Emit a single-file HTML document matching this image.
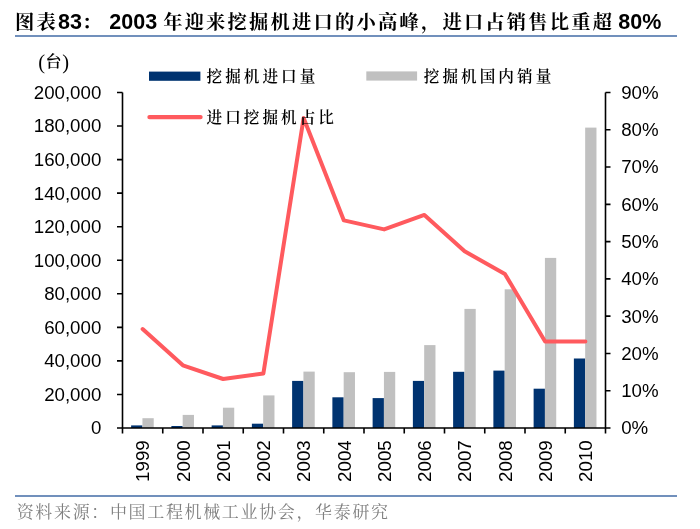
<!DOCTYPE html>
<html><head><meta charset="utf-8"><title>图表83</title>
<style>
html,body{margin:0;padding:0;background:#fff;width:700px;height:529px;overflow:hidden;}
.t{position:absolute;left:15px;top:9px;font-family:"Liberation Sans","Noto Serif CJK SC",serif;font-weight:bold;font-size:21.5px;line-height:26px;white-space:nowrap;color:#000;}
.t .c{font-size:19.3px;letter-spacing:2.2px;font-weight:700;}
.hl{position:absolute;left:15px;width:662px;height:2px;background:#7190bc;}
.src{position:absolute;left:16.7px;top:502px;font-family:"Liberation Serif","Noto Serif CJK SC",serif;font-size:17px;line-height:22px;color:#7f7f7f;white-space:nowrap;letter-spacing:1.65px;}
svg{position:absolute;left:0;top:0;}
</style></head><body>
<svg width="700" height="529" viewBox="0 0 700 529"><rect x="131.12" y="425.40" width="11.30" height="2.60" fill="#003370"/><rect x="142.43" y="418.20" width="11.30" height="9.80" fill="#c0c0c0"/><rect x="171.38" y="426.00" width="11.30" height="2.00" fill="#003370"/><rect x="182.68" y="414.90" width="11.30" height="13.10" fill="#c0c0c0"/><rect x="211.62" y="425.40" width="11.30" height="2.60" fill="#003370"/><rect x="222.93" y="407.70" width="11.30" height="20.30" fill="#c0c0c0"/><rect x="251.88" y="423.70" width="11.30" height="4.30" fill="#003370"/><rect x="263.18" y="395.40" width="11.30" height="32.60" fill="#c0c0c0"/><rect x="292.12" y="380.90" width="11.30" height="47.10" fill="#003370"/><rect x="303.43" y="371.60" width="11.30" height="56.40" fill="#c0c0c0"/><rect x="332.38" y="397.30" width="11.30" height="30.70" fill="#003370"/><rect x="343.68" y="372.20" width="11.30" height="55.80" fill="#c0c0c0"/><rect x="372.62" y="398.10" width="11.30" height="29.90" fill="#003370"/><rect x="383.93" y="371.90" width="11.30" height="56.10" fill="#c0c0c0"/><rect x="412.88" y="380.90" width="11.30" height="47.10" fill="#003370"/><rect x="424.18" y="345.10" width="11.30" height="82.90" fill="#c0c0c0"/><rect x="453.12" y="371.80" width="11.30" height="56.20" fill="#003370"/><rect x="464.43" y="308.90" width="11.30" height="119.10" fill="#c0c0c0"/><rect x="493.38" y="370.60" width="11.30" height="57.40" fill="#003370"/><rect x="504.68" y="289.30" width="11.30" height="138.70" fill="#c0c0c0"/><rect x="533.62" y="388.70" width="11.30" height="39.30" fill="#003370"/><rect x="544.92" y="257.90" width="11.30" height="170.10" fill="#c0c0c0"/><rect x="573.88" y="358.50" width="11.30" height="69.50" fill="#003370"/><rect x="585.17" y="127.60" width="11.30" height="300.40" fill="#c0c0c0"/><path d="M122.5 92.5V433.5 M605.5 92.5V433.5 M117.0 428.0H610.5 M117.0 92.50H122.5 M117.0 126.05H122.5 M117.0 159.60H122.5 M117.0 193.15H122.5 M117.0 226.70H122.5 M117.0 260.25H122.5 M117.0 293.80H122.5 M117.0 327.35H122.5 M117.0 360.90H122.5 M117.0 394.45H122.5 M117.0 428.00H122.5 M605.5 92.50H610.5 M605.5 129.78H610.5 M605.5 167.06H610.5 M605.5 204.33H610.5 M605.5 241.61H610.5 M605.5 278.89H610.5 M605.5 316.17H610.5 M605.5 353.44H610.5 M605.5 390.72H610.5 M605.5 428.00H610.5 M162.75 428.0V433.5 M203.00 428.0V433.5 M243.25 428.0V433.5 M283.50 428.0V433.5 M323.75 428.0V433.5 M364.00 428.0V433.5 M404.25 428.0V433.5 M444.50 428.0V433.5 M484.75 428.0V433.5 M525.00 428.0V433.5 M565.25 428.0V433.5" stroke="#000" stroke-width="1.6" fill="none"/><polyline points="142.62,329.00 182.88,365.30 223.12,379.00 263.38,373.50 303.62,118.00 343.88,220.40 384.12,229.40 424.38,214.90 464.62,251.30 504.88,273.90 545.12,341.50 585.38,341.50" fill="none" stroke="#ff5a5e" stroke-width="4.0" stroke-linejoin="round" stroke-linecap="round"/><g font-family="Liberation Sans, Arial, sans-serif" font-size="18.7" fill="#000"><text x="101.3" y="98.90" text-anchor="end">200,000</text><text x="101.3" y="132.45" text-anchor="end">180,000</text><text x="101.3" y="166.00" text-anchor="end">160,000</text><text x="101.3" y="199.55" text-anchor="end">140,000</text><text x="101.3" y="233.10" text-anchor="end">120,000</text><text x="101.3" y="266.65" text-anchor="end">100,000</text><text x="101.3" y="300.20" text-anchor="end">80,000</text><text x="101.3" y="333.75" text-anchor="end">60,000</text><text x="101.3" y="367.30" text-anchor="end">40,000</text><text x="101.3" y="400.85" text-anchor="end">20,000</text><text x="101.3" y="434.40" text-anchor="end">0</text><text x="621.2" y="98.90">90%</text><text x="621.2" y="136.18">80%</text><text x="621.2" y="173.46">70%</text><text x="621.2" y="210.73">60%</text><text x="621.2" y="248.01">50%</text><text x="621.2" y="285.29">40%</text><text x="621.2" y="322.57">30%</text><text x="621.2" y="359.84">20%</text><text x="621.2" y="397.12">10%</text><text x="621.2" y="434.40">0%</text><text transform="translate(149.43,440.3) rotate(-90)" text-anchor="end">1999</text><text transform="translate(189.68,440.3) rotate(-90)" text-anchor="end">2000</text><text transform="translate(229.93,440.3) rotate(-90)" text-anchor="end">2001</text><text transform="translate(270.18,440.3) rotate(-90)" text-anchor="end">2002</text><text transform="translate(310.43,440.3) rotate(-90)" text-anchor="end">2003</text><text transform="translate(350.68,440.3) rotate(-90)" text-anchor="end">2004</text><text transform="translate(390.93,440.3) rotate(-90)" text-anchor="end">2005</text><text transform="translate(431.18,440.3) rotate(-90)" text-anchor="end">2006</text><text transform="translate(471.43,440.3) rotate(-90)" text-anchor="end">2007</text><text transform="translate(511.68,440.3) rotate(-90)" text-anchor="end">2008</text><text transform="translate(551.92,440.3) rotate(-90)" text-anchor="end">2009</text><text transform="translate(592.17,440.3) rotate(-90)" text-anchor="end">2010</text></g><rect x="149" y="71.6" width="51.4" height="9.2" fill="#003370"/><rect x="366.3" y="71.4" width="50.8" height="9.2" fill="#c0c0c0"/><line x1="149.5" y1="117.1" x2="200.5" y2="117.1" stroke="#ff5a5e" stroke-width="4.4" stroke-linecap="round"/><g font-family="&quot;Liberation Serif&quot;, &quot;Noto Serif CJK SC&quot;, serif" font-size="15.6" font-weight="600" fill="#000" letter-spacing="3.05"><text x="206.5" y="82">挖掘机进口量</text><text x="423.8" y="82">挖掘机国内销量</text><text x="206.5" y="122.8">进口挖掘机占比</text><text y="68.5" letter-spacing="0"><tspan x="38.2" font-size="20.5" font-family="Liberation Serif" font-weight="400">(</tspan><tspan x="45.4" y="67.3" font-size="16">台</tspan><tspan x="62.3" y="68.5" font-size="20.5" font-family="Liberation Serif" font-weight="400">)</tspan></text></g></svg>
<div class="t"><span class="c">图表</span>83<span class="c">：</span> 2003 <span class="c">年迎来挖掘机进口的小高峰，进口占销售比重超</span> <span style="margin-left:-2px">80%</span></div>
<div class="hl" style="top:35px"></div>
<div class="hl" style="top:495px"></div>
<div class="src">资料来源：中国工程机械工业协会，华泰研究</div>
</body></html>
